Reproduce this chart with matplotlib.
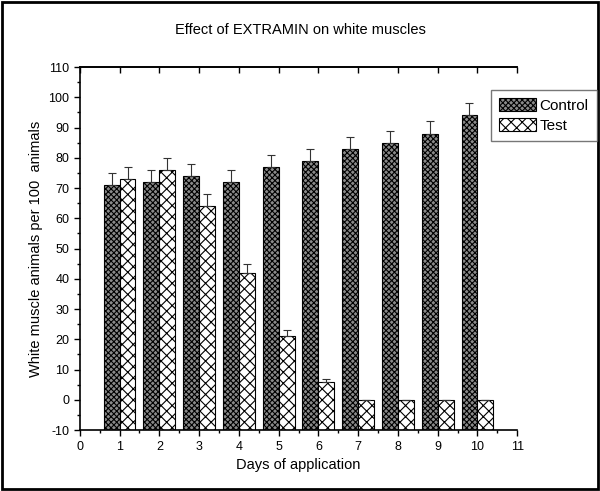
import numpy as np
import matplotlib.pyplot as plt
from matplotlib.patches import Rectangle
from matplotlib.ticker import MultipleLocator

plt.rcParams['font.family'] = ['Liberation Sans', 'DejaVu Sans']
plt.rcParams['hatch.linewidth'] = 0.8
plt.rcParams['axes.unicode_minus'] = False

# Data
days = np.arange(1, 11)
control = [71, 72, 74, 72, 77, 79, 83, 85, 88, 94]
control_err = [4, 4, 4, 4, 4, 4, 4, 4, 4, 4]
test = [73, 76, 64, 42, 21, 6, 0, 0, 0, 0]
test_err = [4, 4, 4, 3, 2, 1, 0, 0, 0, 0]

fig = plt.figure(figsize=(6, 4.91), dpi=100)
ax = fig.add_axes([0.133, 0.124, 0.729, 0.7395])

width = 0.4
err_style = dict(ecolor='#333333', elinewidth=0.8, capsize=3, capthick=0.8)
bars_c = ax.bar(days - width / 2, control, width, facecolor='#8a8a8a', edgecolor='black',
                hatch='xxxxxx', linewidth=0.8, label='Control',
                yerr=[np.zeros(len(control)), control_err], error_kw=err_style)
bars_t = ax.bar(days + width / 2, test, width, facecolor='white', edgecolor='black',
                hatch='xxx', linewidth=0.8, label='Test',
                yerr=[np.zeros(len(test)), test_err], error_kw=err_style)

# bars start at the axis floor (-10), like the original
for b in list(bars_c) + list(bars_t):
    h = b.get_height()
    b.set_y(-10)
    b.set_height(h + 10)

ax.set_xlim(0, 11)
ax.set_ylim(-10, 110)
ax.xaxis.set_major_locator(MultipleLocator(1))
ax.xaxis.set_minor_locator(MultipleLocator(0.5))
ax.yaxis.set_major_locator(MultipleLocator(10))
ax.yaxis.set_minor_locator(MultipleLocator(5))
ax.tick_params(axis='both', which='major', direction='out', length=4, width=1, labelsize=9)
ax.tick_params(axis='both', which='minor', direction='out', length=2, width=1)
ax.spines['right'].set_visible(False)
for s in ['left', 'bottom', 'top']:
    ax.spines[s].set_linewidth(1.2)

# top axis ticks pointing inward
top = ax.secondary_xaxis('top')
top.xaxis.set_major_locator(MultipleLocator(1))
top.tick_params(direction='in', length=4, width=1, labeltop=False)
top.spines['top'].set_linewidth(1.2)

ax.set_xlabel('Days of application', fontsize=10.5)
ax.set_ylabel('White muscle animals per 100  animals', fontsize=10.5)
fig.text(0.5, 0.939, 'Effect of EXTRAMIN on white muscles', ha='center', va='center', fontsize=10.5)

leg = fig.legend(loc='upper right', bbox_to_anchor=(0.995, 0.817), fontsize=11, frameon=True,
                 fancybox=False, edgecolor='#555555', handlelength=2.4, handleheight=0.9,
                 borderpad=0.55, labelspacing=0.35, handletextpad=0.25, borderaxespad=0)

fig.patches.append(Rectangle((0.003, 0.004), 0.994, 0.992, transform=fig.transFigure,
                             fill=False, edgecolor='black', linewidth=2))

fig.savefig('out.png', dpi=100)
